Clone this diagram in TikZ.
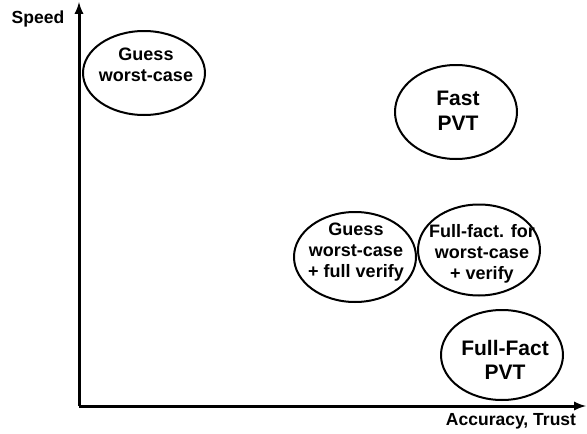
\documentclass[tikz,border=0pt]{standalone}
\usepackage{fontspec}
\setmainfont{Liberation Sans}
\usetikzlibrary{shapes.geometric}

\tikzset{
	oval/.style={shape=ellipse, draw, line width=2pt, minimum width=122pt, minimum height=90pt, inner sep=0pt},
	txt/.style={align=center, inner sep=0pt, font=\fontsize{18}{21}\selectfont\bfseries},
	bigtxt/.style={txt, font=\fontsize{21}{24.5}\selectfont\bfseries},
	axislbl/.style={inner sep=0pt, font=\fontsize{17.5}{20}\selectfont\bfseries}
}

\begin{document}
\begin{tikzpicture}[x=1pt, y=-1pt]
	\useasboundingbox (0, 0) rectangle (587, 434);
	% Axes:
	\coordinate (origin) at (79, 406);
	\coordinate (ytip) at (79, 2);
	\coordinate (xtip) at (586, 406);
	\draw[-latex, line width=3pt] (origin) -- (ytip);
	\draw[-latex, line width=3pt] (origin) -- (xtip);
	\node[axislbl] (speed) at (38, 19){Speed};
	\node[axislbl] (accuracy) at (511, 421){Accuracy, Trust};
	% Ellipses and their texts:
	\node[oval, minimum height=84pt] (guess) at (144, 73){} node[txt] (guesstxt) at (146, 65){Guess\\worst-case};
	\node[oval, minimum height=94pt] (fastpvt) at (456, 112){} node[bigtxt] (fastpvttxt) at (458, 111){Fast\\PVT};
	\node[oval] (guessverify) at (355, 257){} node[txt] (guessverifytxt) at (356, 252){Guess\\worst-case\\+ full verify};
	\node[oval, minimum height=91pt] (factverify) at (479, 250){} node[txt] (factverifytxt) at (482, 254){Full-fact. for\\worst-case\\+ verify};
	\node[oval] (fullfact) at (502, 355){} node[bigtxt] (fullfacttxt) at (505, 360){Full-Fact\\PVT};
\end{tikzpicture}
\end{document}
